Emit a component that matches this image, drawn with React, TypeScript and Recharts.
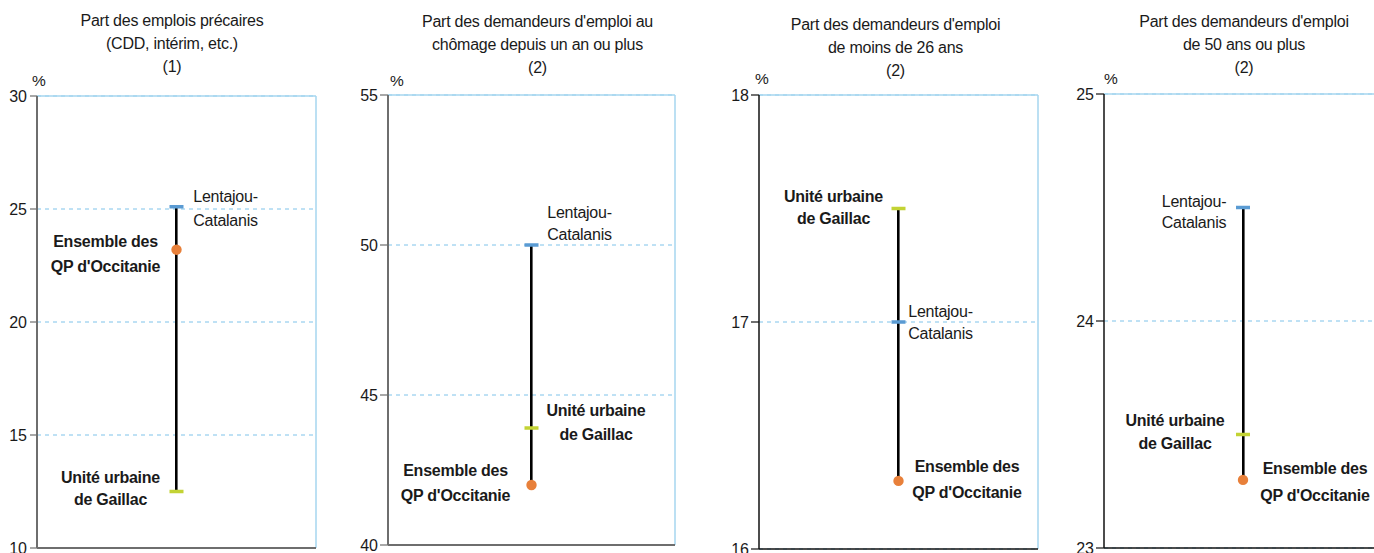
import React from 'react';
import { ComposedChart, Bar, Scatter, XAxis, YAxis, CartesianGrid, ReferenceLine } from 'recharts';

const FONT = '"Liberation Sans", Arial, Helvetica, sans-serif';

// ---------- data ----------
const category = ['QP'];
const titles = [
  ['Part des emplois précaires', '(CDD, intérim, etc.)', '(1)'],
  ["Part des demandeurs d'emploi au", 'chômage depuis un an ou plus', '(2)'],
  ["Part des demandeurs d'emploi", 'de moins de 26 ans', '(2)'],
  ["Part des demandeurs d'emploi", 'de 50 ans ou plus', '(2)'],
];
const lentajouValues = [25.1, 50.0, 17.0, 24.5];
const gaillacValues = [12.5, 43.9, 17.5, 23.5];
const occitanieValues = [23.2, 42.0, 16.3, 23.3];
const yTicks = [
  [10, 15, 20, 25, 30],
  [40, 45, 50, 55],
  [16, 17, 18],
  [23, 24, 25],
];
const unitLabel = '%';
const lentajouLabel = ['Lentajou-', 'Catalanis'];
const gaillacLabel = ['Unité urbaine', 'de Gaillac'];
const occitanieLabel = ['Ensemble des', "QP d'Occitanie"];

// ---------- styles / layout ----------
const BLUE = '#5a9bd3';
const GREEN = '#c3d334';
const ORANGE = '#e8803a';
const GRID = '#7ec3ea';
const BORDER = '#a6d6ef';
const TEXT = '#1a1a1a';
const FS = 16;
const LS = -0.25;
const CH_H = 560;
const YW = 40;

type Off = [number, number, number];
interface Layout {
  left: number; right: number; top: number; bottom: number;
  axis: string; axisW: number; tickSize: number; tickMargin: number;
  titleX: number; titleTop: number; pct: [number, number];
  lenta: Off; gaillac: Off; occ: Off;
}

const layouts: Layout[] = [
  { left: 37, right: 316, top: 96, bottom: 548, axis: '#6e6e6e', axisW: 2, tickSize: 7, tickMargin: 3,
    titleX: 172, titleTop: 8.5, pct: [39, 81],
    lenta: [49, -10, 14], gaillac: [-66, -14, 8], occ: [-71, -8, 17] },
  { left: 388, right: 675, top: 95, bottom: 545, axis: '#6e6e6e', axisW: 2, tickSize: 8, tickMargin: 2,
    titleX: 537.5, titleTop: 9.5, pct: [397, 81],
    lenta: [48, -33, -11], gaillac: [64.5, -18, 6], occ: [-76, -15, 10] },
  { left: 759, right: 1038, top: 95, bottom: 549, axis: '#111', axisW: 1.5, tickSize: 8, tickMargin: 2,
    titleX: 895.5, titleTop: 12.5, pct: [762, 79],
    lenta: [42, -11, 11], gaillac: [-65, -12, 10], occ: [68.5, -14, 12] },
  { left: 1104, right: 1382, top: 94, bottom: 548, axis: '#111', axisW: 1.5, tickSize: 8, tickMargin: 2,
    titleX: 1244, titleTop: 9.5, pct: [1111, 79],
    lenta: [-49, -6, 15], gaillac: [-68, -14, 9], occ: [72, -11, 16] },
];

function makeShape(kind: 'blue' | 'green' | 'dot', lines: string[], off: Off, bold: boolean) {
  return (props: any) => {
    const { cx, cy } = props;
    if (cx == null || cy == null || isNaN(cx) || isNaN(cy)) return <g />;
    const [dx, dy1, dy2] = off;
    const marker =
      kind === 'dot' ? (
        <circle cx={cx} cy={cy} r={5.2} fill={ORANGE} />
      ) : (
        <rect x={cx - 7} y={cy - 1.75} width={14} height={3.5} fill={kind === 'blue' ? BLUE : GREEN} />
      );
    const common = {
      textAnchor: 'middle' as const,
      dominantBaseline: 'central' as const,
      fontFamily: FONT,
      fontSize: FS,
      letterSpacing: LS,
      fontWeight: bold ? 700 : 400,
      fill: TEXT,
    };
    return (
      <g>
        {marker}
        <text x={cx + dx} y={cy + dy1} {...common}>{lines[0]}</text>
        <text x={cx + dx} y={cy + dy2} {...common}>{lines[1]}</text>
      </g>
    );
  };
}

function Panel({ i }: { i: number }) {
  const L = layouts[i];
  const ticks = yTicks[i];
  const dMin = ticks[0];
  const dMax = ticks[ticks.length - 1];
  const vals = [lentajouValues[i], gaillacValues[i], occitanieValues[i]];
  const data = [
    {
      cat: category[0],
      lenta: lentajouValues[i],
      gaillac: gaillacValues[i],
      occ: occitanieValues[i],
      range: [Math.min(...vals), Math.max(...vals)],
    },
  ];
  const width = L.right - L.left + YW + 2;
  return (
    <>
      <div
        style={{
          position: 'absolute', left: L.titleX, top: L.titleTop, transform: 'translateX(-50%)',
          textAlign: 'center', whiteSpace: 'nowrap', fontFamily: FONT, fontSize: FS, letterSpacing: LS,
          lineHeight: '23px', color: TEXT,
        }}
      >
        {titles[i].map((t, k) => (
          <div key={k}>{t}</div>
        ))}
      </div>
      <div
        style={{
          position: 'absolute', left: L.pct[0], top: L.pct[1], transform: 'translate(-50%, -50%)',
          fontFamily: FONT, fontSize: 15.5, color: TEXT, lineHeight: '16px',
        }}
      >
        {unitLabel}
      </div>
      <div style={{ position: 'absolute', left: L.left - YW, top: 0 }}>
        <ComposedChart
          width={width}
          height={CH_H}
          data={data}
          margin={{ top: L.top, right: 2, bottom: CH_H - L.bottom, left: 0 }}
        >
          <CartesianGrid
            vertical={false}
            stroke={GRID}
            strokeDasharray="4 4"
            strokeWidth={1}
          />
          <CartesianGrid
            horizontal={false}
            stroke={BORDER}
            strokeWidth={1.5}
            verticalCoordinatesGenerator={({ offset }: any) => [offset.left + offset.width]}
          />
          <ReferenceLine y={dMax} stroke={BORDER} strokeWidth={1.5} />
          <ReferenceLine y={dMin} stroke={L.axis} strokeWidth={L.axisW} />
          <XAxis dataKey="cat" type="category" hide />
          <YAxis
            type="number"
            domain={[dMin, dMax]}
            ticks={ticks}
            interval={0}
            allowDataOverflow
            width={YW}
            tickSize={L.tickSize}
            tickMargin={L.tickMargin}
            axisLine={{ stroke: L.axis, strokeWidth: L.axisW }}
            tickLine={{ stroke: L.axis, strokeWidth: 1.2 }}
            tick={{ fill: TEXT, fontSize: FS, fontFamily: FONT }}
          />
          <Bar dataKey="range" barSize={2.6} fill="#000" isAnimationActive={false} />
          <Scatter
            dataKey="lenta"
            isAnimationActive={false}
            shape={makeShape('blue', lentajouLabel, L.lenta, false)}
          />
          <Scatter
            dataKey="gaillac"
            isAnimationActive={false}
            shape={makeShape('green', gaillacLabel, L.gaillac, true)}
          />
          <Scatter
            dataKey="occ"
            isAnimationActive={false}
            shape={makeShape('dot', occitanieLabel, L.occ, true)}
          />
        </ComposedChart>
      </div>
    </>
  );
}

export default function App() {
  return (
    <div
      style={{
        position: 'fixed', left: 0, top: 0, width: 1374, height: 553, overflow: 'hidden', background: '#fff',
      }}
    >
      {[0, 1, 2, 3].map((i) => (
        <Panel key={i} i={i} />
      ))}
    </div>
  );
}
